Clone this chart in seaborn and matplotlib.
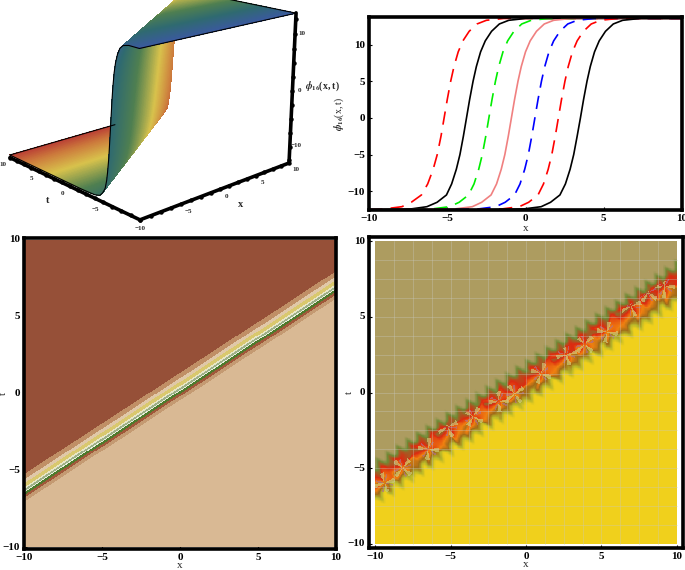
import numpy as np
import seaborn as sns
import matplotlib.pyplot as plt
from matplotlib.colors import ListedColormap, LinearSegmentedColormap

sns.set_theme(style="white")
plt.rcParams["font.family"] = ["Liberation Serif", "DejaVu Serif"]
plt.rcParams["font.weight"] = "bold"
plt.rcParams["mathtext.fontset"] = "stix"

W, H = 685, 570

# values
phi_levels = [-12.5, -12.4, -12.1, -11.5, -10.5, -9, -7, -5, -2.5, 0, 2.5, 5, 7, 9, 10.5, 11.8, 12.8, 13.3, 13.55]
x_red1 = [-10, -9, -7.9, -7.3, -6.65, -6.25, -5.9, -5.64, -5.4, -5.2, -5.0, -4.78, -4.57, -4.3, -4.0, -3.6, -3.1, -2.5, -1.4]
x_black1 = [-9.5, -7.3, -6.3, -5.65, -5.05, -4.72, -4.42, -4.19, -3.97, -3.77, -3.57, -3.35, -3.14, -2.87, -2.57, -2.17, -1.67, -1.07, 0.0]
x_green = [-8.3, -5.95, -4.85, -4.24, -3.64, -3.29, -2.99, -2.76, -2.54, -2.34, -2.14, -1.92, -1.71, -1.44, -1.14, -0.74, -0.24, 0.36, 1.46]
x_pink = [-6.9, -4.5, -3.4, -2.8, -2.2, -1.85, -1.55, -1.32, -1.1, -0.9, -0.7, -0.48, -0.27, 0.0, 0.3, 0.7, 1.2, 1.8, 2.9]
x_blue = [-5.4, -3, -1.9, -1.3, -0.7, -0.35, -0.05, 0.18, 0.4, 0.6, 0.8, 1.02, 1.23, 1.5, 1.8, 2.2, 2.7, 3.3, 4.4]
x_red2 = [-3.9, -1.5, -0.4, 0.2, 0.8, 1.15, 1.45, 1.68, 1.9, 2.1, 2.3, 2.52, 2.73, 3.0, 3.3, 3.7, 4.2, 4.8, 5.9]
x_black2 = [-2.5, -0.1, 1, 1.6, 2.2, 2.55, 2.85, 3.08, 3.3, 3.51, 3.71, 3.93, 4.14, 4.41, 4.71, 5.11, 5.61, 6.21, 7.3]

ticks_five = [-10, -5, 0, 5, 10]
tick_labels = ["\u221210", "\u22125", "0", "5", "10"]

# contour bands, t offset of each edge at x=0
band_slope = 0.66
band_edges = [-0.44, -0.18, 0.0, 0.17, 0.24, 0.38, 0.5, 0.76, 1.0, 1.35]
band_colors = ["#D9B994", "#C49A72", "#A0583A", "#4E7A2C", "#E6EEDC", "#9DB088", "#E8E6C8", "#D9C86E", "#E0C8A8", "#C08F66", "#965038"]

# density panel: across-band profile and star centres
dens_offsets = [-0.85, -0.55, -0.3, 0.0, 0.4, 0.9, 1.25, 1.7, 2.05]
dens_values = [1.0, 0.88, 0.8, 0.62, 0.48, 0.32, 0.27, 0.13, 0.0]
star_x = [9.2, 8.1, 7.0, 5.4, 3.9, 2.7, 1.0, -0.75, -1.8, -3.5, -5.2, -6.5, -8.2, -9.4]
star_t = [7.0, 6.6, 5.7, 4.0, 3.2, 2.5, 1.25, -0.1, -0.6, -1.6, -2.3, -3.75, -5.0, -6.0]
dens_cols = ["#AD9C60", "#6F8A35", "#DC2A10", "#F08010", "#A06A18", "#B5B52A", "#F0D01C"]
dens_stops = [0, 0.14, 0.3, 0.5, 0.66, 0.84, 1]
fleck_cols = ["#CDD07C", "#B0708C"]

# rainbow used on the surface, by t
surf_t = [-10, -6, -2, 3, 7, 10]
surf_cols = ["#3A5A9C", "#2F6A70", "#4F7F50", "#D8C24C", "#CC7A3C", "#B83A34"]

fig = plt.figure(figsize=(W / 100, H / 100), dpi=100)


def add_px(x0, y0, x1, y1, **kw):
    return fig.add_axes([x0 / W, 1 - y1 / H, (x1 - x0) / W, (y1 - y0) / H], **kw)


def frame(ax, lw=2.6):
    for s in ax.spines.values():
        s.set_visible(True)
        s.set_linewidth(lw)
        s.set_color("black")
    ax.tick_params(left=True, bottom=True, length=2.5, width=0.8, direction="in", labelsize=8, pad=3, colors="black")


# top right, the profiles
ax = add_px(369, 17, 682, 210)
curves = [(x_red1, "red", True), (x_black1, "black", False), (x_green, "#00EE00", True), (x_pink, "#F08080", False),
          (x_blue, "blue", True), (x_red2, "red", True), (x_black2, "black", False)]
for xs, col, dashed in curves:
    xs = [-10] + xs + [10]
    ys = [phi_levels[0]] + phi_levels + [phi_levels[-1]]
    sns.lineplot(x=xs, y=ys, ax=ax, color=col, lw=1.2, sort=False, estimator=None,
                 linestyle=(0, (8, 5)) if dashed else "-")
ax.set_xlim(-10, 10)
ax.set_ylim(-12.55, 13.75)
ax.set_xticks(ticks_five)
ax.set_yticks(ticks_five)
ax.set_xticklabels(tick_labels)
ax.set_yticklabels(tick_labels)
ax.set_xlabel("x", fontsize=8)
ax.xaxis.set_label_coords(0.5, -0.07)
ax.set_ylabel(r"$\phi_{16}$(x, t)", fontsize=7)
ax.yaxis.set_label_coords(-0.073, 0.5)
frame(ax)


def band_field(n=620):
    xs = np.linspace(-10, 10, n)
    ts = np.linspace(10, -10, n)
    return xs, ts, *np.meshgrid(xs, ts)


def cell_axes(ax, n, mx, my):
    ax.set_xlim(-mx * n / 20, n + mx * n / 20)
    ax.set_ylim(n + my * n / 20, -my * n / 20)
    ax.set_xticks([(v + 10) / 20 * n for v in ticks_five])
    ax.set_yticks([(10 - v) / 20 * n for v in ticks_five])
    ax.set_xticklabels(tick_labels, rotation=0)
    ax.set_yticklabels(tick_labels, rotation=0)


def soften(a, k=5):
    # the original is soft, box blur a little
    kernel = np.ones(k) / k
    pad = k // 2
    a = np.apply_along_axis(lambda r: np.convolve(np.pad(r, pad, mode="edge"), kernel, mode="valid"), 0, a)
    return np.apply_along_axis(lambda r: np.convolve(np.pad(r, pad, mode="edge"), kernel, mode="valid"), 1, a)


# bottom left, contour bands
ax = add_px(24, 238, 336, 549)
xs, ts, X, T = band_field()
idx = np.searchsorted(band_edges, T - band_slope * X)
sns.heatmap(idx, ax=ax, cmap=ListedColormap(band_colors), vmin=-0.5, vmax=len(band_colors) - 0.5, cbar=False, rasterized=True)
cell_axes(ax, len(xs), 0.0, 0.12)
ax.set_xlabel("x", fontsize=8)
ax.xaxis.set_label_coords(0.5, -0.04)
ax.set_ylabel("t", fontsize=8)
ax.yaxis.set_label_coords(-0.05, 0.5)
frame(ax)

# bottom right, density with mesh
ax = add_px(369, 237, 683, 548)
xs, ts, X, T = band_field(500)
D = T - band_slope * X
along = X + band_slope * T
tri = np.abs(((along / 0.95) % 1) - 0.5) * 2 - 0.5
edge_weight = np.clip(np.abs(D - 0.6) / 1.2, 0, 1) ** 2
S = np.interp(D + 0.8 * tri * edge_weight, dens_offsets, dens_values)
inner = np.clip(1 - np.abs(D - 0.4) / 1.2, 0, 1) ** 0.5
# nearest star owns the pixel, blades as a sawtooth around it
dist = np.stack([np.hypot(X - a, T - b) for a, b in zip(star_x, star_t)])
near = dist.argmin(axis=0)
rmin = dist.min(axis=0)
ang = np.arctan2(T - np.array(star_t)[near], X - np.array(star_x)[near])
saw = ((ang * 4 / (2 * np.pi) + near * 0.37) % 1) - 0.5
S = np.clip(S + 0.55 * saw * inner * np.exp(-rmin / 1.6), 0, 1)
cmap = LinearSegmentedColormap.from_list("dens", list(zip(dens_stops, dens_cols)))
sns.heatmap(soften(S), ax=ax, cmap=cmap, vmin=0, vmax=1, cbar=False, rasterized=True)
# pale blades and purple flecks on top of the stars
fleck = np.full(S.shape, np.nan)
fleck[(np.abs(saw) > 0.36) & (rmin < 0.7) & (inner > 0.5)] = 0
fleck[(saw > 0.1) & (saw < 0.24) & (rmin < 0.6) & (inner > 0.5)] = 1
sns.heatmap(fleck, ax=ax, cmap=ListedColormap(fleck_cols), vmin=0, vmax=1, cbar=False, alpha=0.65, rasterized=True)
n = len(xs)
for v in np.arange(-8.75, 9, 1.25):
    pos = (v + 10) / 20 * n
    ax.plot([pos, pos], [0, n], color="#C8C8C0", lw=0.5, alpha=0.5)
    ax.plot([0, n], [pos, pos], color="#C8C8C0", lw=0.5, alpha=0.5)
cell_axes(ax, n, 0.42, 0.28)
ax.set_xlabel("x", fontsize=8)
ax.xaxis.set_label_coords(0.5, -0.04)
ax.set_ylabel("t", fontsize=8)
ax.yaxis.set_label_coords(-0.048, 0.5)
frame(ax)

# top left, 3D surface
ax3 = fig.add_axes([-0.152, 0.5614, 0.725, 0.555], projection="3d", computed_zorder=False)
ax3.patch.set_alpha(0)
ax3.view_init(elev=17, azim=-132)
ax3.set_proj_type("persp", focal_length=0.55)
ax3.set_box_aspect((1, 1, 0.77))
px = np.linspace(-10, 10, 220)
pt = np.linspace(-10, 10, 220)
PX, PT = np.meshgrid(px, pt)
prof = np.array(x_black2) - 3.51


def surf_phi(a, b):
    return np.interp(a - (b - 0.45) / band_slope, prof, phi_levels)


surf_cmap = LinearSegmentedColormap.from_list("surf", [((v + 10) / 20, c) for v, c in zip(surf_t, surf_cols)])
ax3.plot_surface(PX, PT, surf_phi(PX, PT), facecolors=surf_cmap((PT + 10) / 20), rstride=1, cstride=1,
                 linewidth=0, antialiased=False, shade=False, zorder=1)
line = np.linspace(-10, 10, 300)
edge_x = line[line < 4]
edge_t = line[line < 5]
for a, b in [(line, np.full(300, -10.0)), (edge_x, np.full(len(edge_x), 10.0)), (np.full(300, -10.0), line),
             (np.full(len(edge_t), 10.0), edge_t)]:
    ax3.plot(a, b, surf_phi(a, b), color="black", lw=0.8, zorder=3)
low = -13.0
ax3.plot([-10, 10], [-10, -10], [low, low], color="black", lw=2.6, zorder=4)
ax3.plot([-10, -10], [-10, 10], [low, low], color="black", lw=2.6, zorder=4)
ax3.plot([10, 10], [-10, -10], [low, 13.6], color="black", lw=2.6, zorder=4)
ticks_minor = np.arange(-10, 11, 1.25)
ax3.plot(ticks_minor, np.full(len(ticks_minor), -10.0), np.full(len(ticks_minor), low), ls="", marker="o", ms=2.2, color="black", zorder=4)
ax3.plot(np.full(len(ticks_minor), -10.0), ticks_minor, np.full(len(ticks_minor), low), ls="", marker="o", ms=2.2, color="black", zorder=4)
zt = np.arange(-12.5, 13.6, 2.5)
ax3.plot(np.full(len(zt), 10.0), np.full(len(zt), -10.0), zt, ls="", marker="o", ms=2.2, color="black", zorder=4)
for v in [-5, 0, 5, 10]:
    ax3.text(v, -10.9, low - 0.8, str(v).replace("-", "\u2212"), fontsize=5, ha="center", va="center", zorder=5)
for v in [-5, 0, 5, 10]:
    ax3.text(-10.9, v, low - 0.8, str(v).replace("-", "\u2212"), fontsize=5, ha="center", va="center", zorder=5)
ax3.text(-10.3, -10.3, low - 1, "\u221210", fontsize=5, ha="center", va="center", zorder=5)
for v in [-10, 0, 10]:
    ax3.text(10.8, -10.2, v, str(v).replace("-", "\u2212"), fontsize=5, ha="center", va="center", zorder=5)
ax3.text(0, -12.6, low - 1.2, "x", fontsize=7.5, ha="center", va="center", zorder=5)
ax3.text(-12.6, 0, low - 1.2, "t", fontsize=7.5, ha="center", va="center", zorder=5)
ax3.text(13.5, -11, 0, r"$\phi_{16}$(x, t)", fontsize=7, ha="center", va="center", zorder=5)
ax3.set_xlim(-10, 10)
ax3.set_ylim(-10, 10)
ax3.set_zlim(low, 13.6)
ax3.set_axis_off()

fig.savefig("out.png", dpi=100)
